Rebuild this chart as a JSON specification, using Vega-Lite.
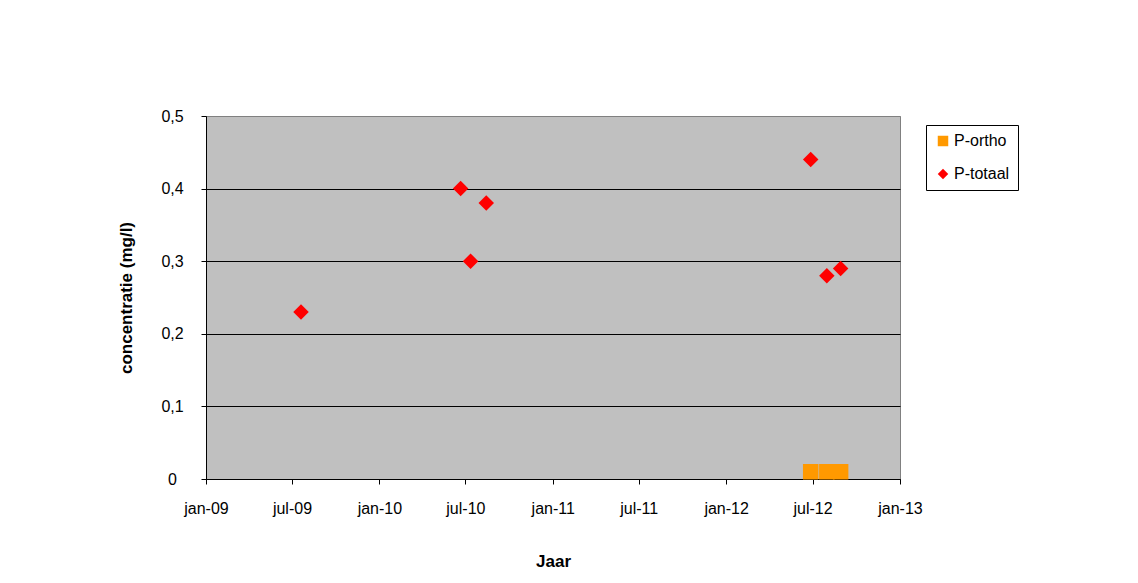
{
  "$schema": "https://vega.github.io/schema/vega-lite/v6.json",
  "width": 694,
  "height": 363,
  "autosize": {"type": "none"},
  "padding": {"left": 206, "top": 116, "right": 238, "bottom": 104},
  "background": "#ffffff",
  "data": {
    "values": [
      {"datum": "2012-06-27", "reeks": "P-ortho", "concentratie": 0.01},
      {"datum": "2012-07-31", "reeks": "P-ortho", "concentratie": 0.01},
      {"datum": "2012-08-29", "reeks": "P-ortho", "concentratie": 0.01},
      {"datum": "2009-07-20", "reeks": "P-totaal", "concentratie": 0.23},
      {"datum": "2010-06-21", "reeks": "P-totaal", "concentratie": 0.40},
      {"datum": "2010-07-12", "reeks": "P-totaal", "concentratie": 0.30},
      {"datum": "2010-08-14", "reeks": "P-totaal", "concentratie": 0.38},
      {"datum": "2012-06-27", "reeks": "P-totaal", "concentratie": 0.44},
      {"datum": "2012-07-31", "reeks": "P-totaal", "concentratie": 0.28},
      {"datum": "2012-08-29", "reeks": "P-totaal", "concentratie": 0.29}
    ]
  },
  "mark": {"type": "point", "filled": true, "opacity": 1, "size": 240},
  "encoding": {
    "x": {
      "field": "datum",
      "type": "temporal",
      "title": "Jaar",
      "scale": {
        "type": "utc",
        "domain": [
          {"year": 2009, "month": 1, "date": 1, "utc": true},
          {"year": 2013, "month": 1, "date": 1, "utc": true}
        ],
        "nice": false
      },
      "axis": {
        "values": [
          {"year": 2009, "month": 1, "date": 1, "utc": true},
          {"year": 2009, "month": 7, "date": 1, "utc": true},
          {"year": 2010, "month": 1, "date": 1, "utc": true},
          {"year": 2010, "month": 7, "date": 1, "utc": true},
          {"year": 2011, "month": 1, "date": 1, "utc": true},
          {"year": 2011, "month": 7, "date": 1, "utc": true},
          {"year": 2012, "month": 1, "date": 1, "utc": true},
          {"year": 2012, "month": 7, "date": 1, "utc": true},
          {"year": 2013, "month": 1, "date": 1, "utc": true}
        ],
        "labelExpr": "lower(utcFormat(datum.value, '%b-%y'))",
        "grid": false,
        "tickSize": 5,
        "labelPadding": 16,
        "labelAlign": "center",
        "labelFlush": false,
        "labelOverlap": false,
        "titlePadding": 37
      }
    },
    "y": {
      "field": "concentratie",
      "type": "quantitative",
      "title": "concentratie (mg/l)",
      "scale": {"domain": [0, 0.5], "nice": false, "zero": true},
      "axis": {
        "values": [0, 0.1, 0.2, 0.3, 0.4, 0.5],
        "labelExpr": "datum.value == 0 ? '0' : replace(format(datum.value, '.1f'), '.', ',')",
        "grid": true,
        "gridColor": {"condition": {"test": "datum.value >= 0.5", "value": "#808080"}, "value": "#000000"},
        "tickSize": 5,
        "labelPadding": 29,
        "labelAlign": "center",
        "labelBaseline": "middle",
        "labelFlush": false,
        "titlePadding": 25
      }
    },
    "color": {
      "field": "reeks",
      "type": "nominal",
      "title": null,
      "scale": {"domain": ["P-ortho", "P-totaal"], "range": ["#FF9900", "#FF0000"]}
    },
    "shape": {
      "field": "reeks",
      "type": "nominal",
      "title": null,
      "scale": {"domain": ["P-ortho", "P-totaal"], "range": ["square", "diamond"]}
    }
  },
  "config": {
    "font": "Liberation Sans",
    "view": {"fill": "#C0C0C0", "stroke": "#808080", "strokeWidth": 1},
    "axis": {
      "domainColor": "#000000",
      "domainWidth": 1,
      "tickColor": "#000000",
      "tickWidth": 1,
      "gridWidth": 1,
      "labelFont": "Liberation Sans",
      "labelFontSize": 16,
      "labelColor": "#000000",
      "titleFont": "Liberation Sans",
      "titleFontSize": 17,
      "titleFontWeight": "bold",
      "titleColor": "#000000"
    },
    "legend": {
      "orient": "none",
      "legendX": 720,
      "legendY": 9,
      "direction": "vertical",
      "fillColor": "#ffffff",
      "strokeColor": "#000000",
      "strokeWidth": 1,
      "padding": 8,
      "rowPadding": 17,
      "symbolSize": 110,
      "symbolOffset": 1,
      "symbolOpacity": 1,
      "symbolStrokeWidth": 0,
      "labelFont": "Liberation Sans",
      "labelFontSize": 16,
      "labelColor": "#000000",
      "labelOffset": 3,
      "labelLimit": 200
    }
  }
}
